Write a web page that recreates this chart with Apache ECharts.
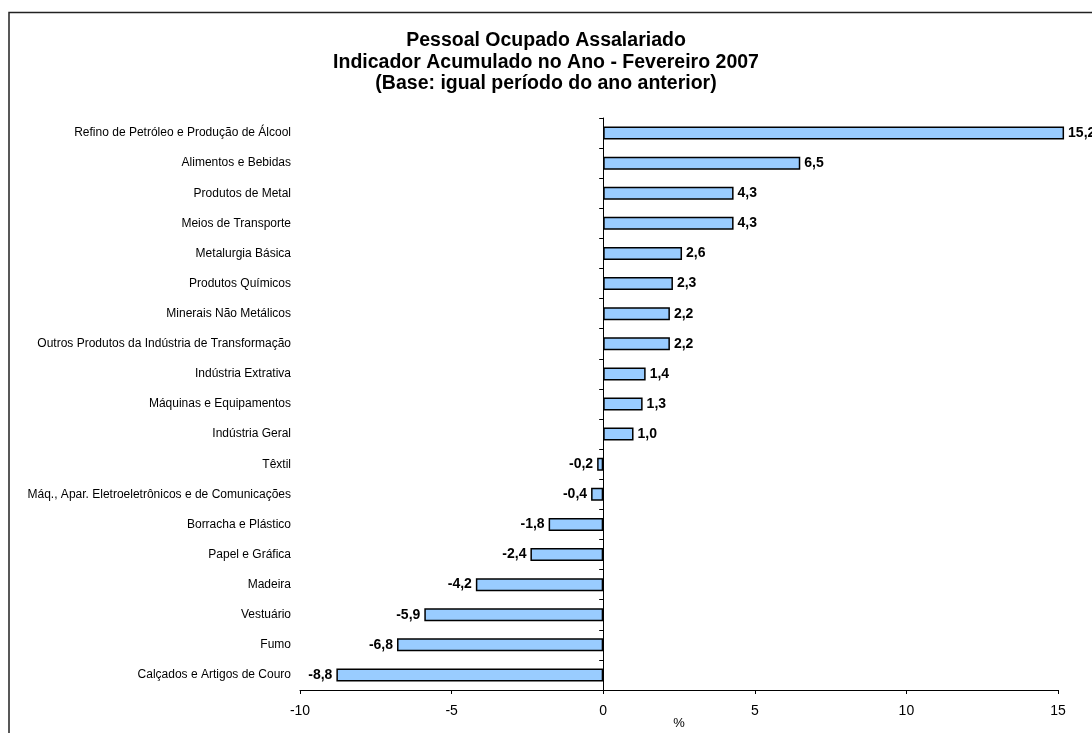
<!DOCTYPE html>
<html>
<head>
<meta charset="utf-8">
<script src="https://cdn.jsdelivr.net/npm/echarts@6/dist/echarts.min.js"></script>
<style>
html,body{margin:0;padding:0;background:#fff;}
#chart{width:1092px;height:733px;}
</style>
</head>
<body>
<div id="chart"></div>
<script>
const categories = [
  "Refino de Petróleo e Produção de Álcool",
  "Alimentos e Bebidas",
  "Produtos de Metal",
  "Meios de Transporte",
  "Metalurgia Básica",
  "Produtos Químicos",
  "Minerais Não Metálicos",
  "Outros Produtos da Indústria de Transformação",
  "Indústria Extrativa",
  "Máquinas e Equipamentos",
  "Indústria Geral",
  "Têxtil",
  "Máq., Apar. Eletroeletrônicos e de Comunicações",
  "Borracha e Plástico",
  "Papel e Gráfica",
  "Madeira",
  "Vestuário",
  "Fumo",
  "Calçados e Artigos de Couro"
];
const values = [15.2, 6.5, 4.3, 4.3, 2.6, 2.3, 2.2, 2.2, 1.4, 1.3, 1.0, -0.2, -0.4, -1.8, -2.4, -4.2, -5.9, -6.8, -8.8];
const xTicks = [-10, -5, 0, 5, 10, 15];
const titleLines = [
  "Pessoal Ocupado Assalariado",
  "Indicador Acumulado no Ano - Fevereiro 2007",
  "(Base: igual período do ano anterior)"
];
const axisName = "%";

const chart = echarts.init(document.getElementById('chart'));
const font = "Liberation Sans, Arial, sans-serif";

const data = values.map(v => ({
  value: v,
  label: { position: v >= 0 ? 'right' : 'left' }
}));

chart.setOption({
  animation: false,
  backgroundColor: '#fff',
  graphic: [{
    type: 'rect',
    shape: { x: 9, y: 12.5, width: 1200, height: 800 },
    style: { fill: 'none', stroke: '#222', lineWidth: 1.5 },
    silent: true
  }],
  title: {
    text: titleLines.join('\n'),
    left: 541,
    textAlign: 'center',
    top: 25,
    textStyle: { fontFamily: font, fontSize: 19.5, fontWeight: 'bold', color: '#000', lineHeight: 21.5 }
  },
  grid: { left: 300, right: 34, top: 118, bottom: 43, containLabel: false, outerBoundsMode: 'none' },
  xAxis: {
    type: 'value',
    min: xTicks[0],
    max: xTicks[xTicks.length - 1],
    interval: 5,
    name: axisName,
    nameLocation: 'middle',
    nameGap: 27,
    nameMoveOverlap: false,
    nameTextStyle: { fontFamily: font, fontSize: 13, color: '#000' },
    splitLine: { show: false },
    axisLine: { show: true, lineStyle: { color: '#000', width: 1 } },
    axisTick: { show: true, length: 4, lineStyle: { color: '#000' } },
    axisLabel: { fontFamily: font, fontSize: 14, color: '#000', margin: 14 }
  },
  yAxis: [{
    type: 'category',
    position: 'left',
    inverse: true,
    data: categories,
    axisLine: { show: false, onZero: false },
    axisTick: { show: false },
    axisLabel: { fontFamily: font, fontSize: 12, color: '#000', margin: 9 }
  }, {
    type: 'category',
    position: 'left',
    inverse: true,
    data: categories,
    axisLine: { show: true, onZero: true, lineStyle: { color: '#000', width: 1 } },
    axisTick: { show: true, length: 4, alignWithLabel: false, lineStyle: { color: '#000' } },
    axisLabel: { show: false }
  }],
  series: [{
    type: 'bar',
    yAxisIndex: 0,
    data: data,
    barWidth: 13,
    clip: false,
    itemStyle: { color: '#99CCFF', borderColor: '#000', borderWidth: 1.5 },
    label: {
      show: true,
      fontFamily: font,
      fontSize: 14,
      fontWeight: 'bold',
      color: '#000',
      distance: 4,
      formatter: p => p.value.toFixed(1).replace('.', ',')
    }
  }]
});
</script>
</body>
</html>
